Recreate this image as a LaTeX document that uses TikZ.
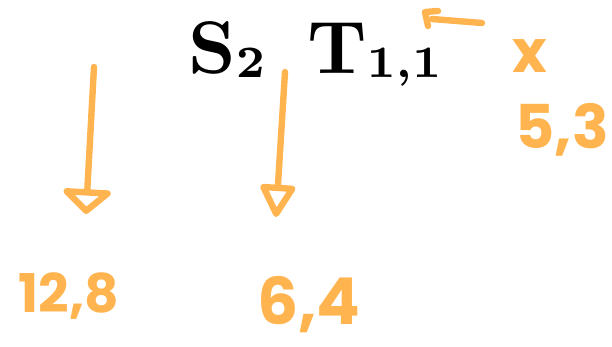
\documentclass[tikz,border=0pt]{standalone}
\usepackage{fontspec}
\usetikzlibrary{calc,positioning}
\usetikzlibrary{arrows.meta}
\newfontfamily\handfont{Poppins}
\definecolor{penorange}{HTML}{FFB44F}
\font\titlebx=cmbx10 at 53pt
\font\subbx=cmbx7 at 32pt
\newcommand{\lowsub}[1]{\raisebox{-1mm}{\subbx #1}}
\newcommand{\scrawlsize}[1]{\handfont\bfseries\fontsize{#1}{#1}\selectfont}
\tikzset{
  ink/.style={draw=penorange,line width=1.6mm,line cap=round,line join=round},
  scrawl/.style={text=penorange,inner sep=0pt,anchor=base,text depth=0pt},
}
\begin{document}
\begin{tikzpicture}
    \useasboundingbox (0mm,0mm) rectangle (153mm,86.5mm);
    \node[anchor=base west,inner sep=0pt] (header) at (47mm,68.25mm) {\titlebx S\lowsub{2}\hspace{10.5mm}T\lowsub{1,1}};
    \node[scrawl] (cross) at (132.5mm,68.5mm) {\scrawlsize{42}x};
    \node[scrawl] (fivethree) at (140.5mm,49.5mm) {\scrawlsize{43}5,3};
    \node[scrawl] (twelveeight) at (17.25mm,8.5mm) {\scrawlsize{38}12,8};
    \node[scrawl] (sixfour) at (77.25mm,5.5mm) {\scrawlsize{46}6,4};
    \coordinate (a1) at (23.5mm,69.75mm);
    \coordinate (b1) at (21.5mm,33mm);
    \coordinate (a2) at (71.25mm,68.5mm);
    \coordinate (b2) at (69mm,32.25mm);
    \coordinate (h1) at (109.5mm,83.75mm);
    \coordinate (h2) at (106.25mm,83.5mm);
    \coordinate (h3) at (107mm,80mm);
    \coordinate (h4) at (108mm,81.75mm);
    \coordinate (h5) at (120.5mm,80.75mm);
    \draw[ink,-{Triangle[open,length=6.5mm,width=14mm,round]}] (a1)--(b1);
    \draw[ink,-{Triangle[open,length=9mm,width=9.5mm,round]}] (a2)--(b2);
    \draw[ink] (h1)--(h2)--(h3);
    \draw[ink] (h4)--(h5);
\end{tikzpicture}
\end{document}
